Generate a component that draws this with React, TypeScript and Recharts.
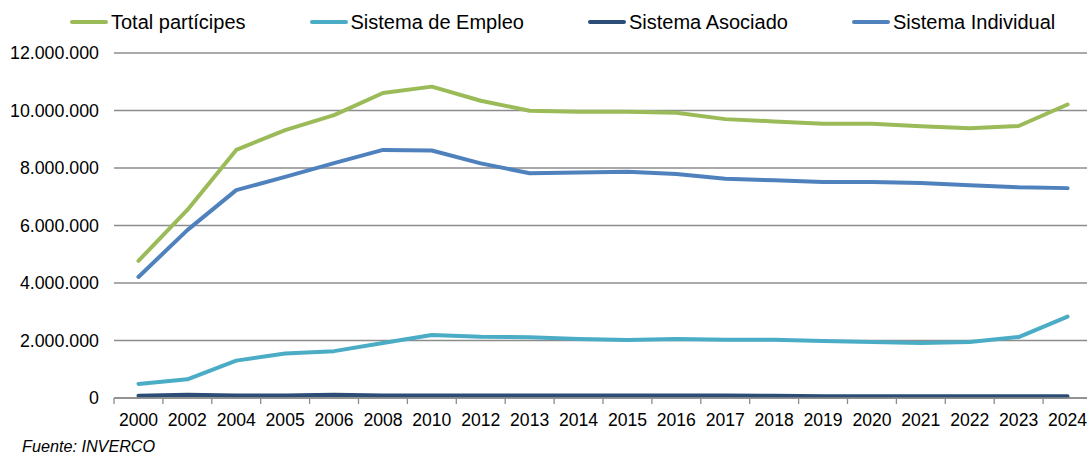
import React from 'react';
import { LineChart, Line, XAxis, YAxis, CartesianGrid, Legend } from 'recharts';

const years = ['2000','2002','2004','2005','2006','2008','2010','2012','2013','2014','2015','2016','2017','2018','2019','2020','2021','2022','2023','2024'];
const totalParticipes = [4770000,6540000,8630000,9320000,9840000,10610000,10830000,10340000,9990000,9960000,9960000,9920000,9700000,9620000,9540000,9540000,9450000,9380000,9460000,10210000];
const sistemaEmpleo = [490000,650000,1300000,1550000,1630000,1910000,2190000,2130000,2110000,2050000,2020000,2050000,2030000,2030000,1980000,1950000,1910000,1950000,2120000,2830000];
const sistemaAsociado = [80000,110000,90000,90000,110000,90000,90000,90000,90000,90000,90000,90000,90000,80000,60000,60000,60000,60000,60000,60000];
const sistemaIndividual = [4210000,5840000,7230000,7690000,8170000,8630000,8610000,8160000,7820000,7840000,7870000,7790000,7630000,7570000,7510000,7510000,7480000,7400000,7330000,7300000];
const yTicks = [0,2000000,4000000,6000000,8000000,10000000,12000000];

const series = [
  { key: 'total', name: 'Total partícipes', color: '#9BBB59', values: totalParticipes },
  { key: 'empleo', name: 'Sistema de Empleo', color: '#4BACC6', values: sistemaEmpleo },
  { key: 'asociado', name: 'Sistema Asociado', color: '#2C4D75', values: sistemaAsociado },
  { key: 'individual', name: 'Sistema Individual', color: '#4F81BD', values: sistemaIndividual },
];

const data = years.map((y, i) => {
  const row: any = { year: y };
  series.forEach(s => { row[s.key] = s.values[i]; });
  return row;
});

const CHART_W = 1095;
const PLOT_LEFT = 114;
const PLOT_RIGHT = 3;
const BAND = (CHART_W - PLOT_LEFT - PLOT_RIGHT) / years.length;
const FONT = '"Liberation Sans", Arial, sans-serif';
const GRID = '#8c8c8c';

const fmt = (n: number) => String(n).replace(/\B(?=(\d{3})+(?!\d))/g, '.');

const XTick = (props: any) => {
  const { x, y, payload } = props;
  const bx = x - BAND / 2;
  return (
    <g>
      <line x1={bx} x2={bx} y1={y} y2={y + 6} stroke={GRID} strokeWidth={1.3} />
      <text x={x} y={y + 27.5} textAnchor="middle" fill="#000" fontSize={17.6} fontFamily={FONT}>{payload.value}</text>
    </g>
  );
};

const LegendContent = () => (
  <div style={{ display: 'flex', alignItems: 'center', paddingLeft: 70, paddingTop: 10, fontFamily: FONT, fontSize: 20, color: '#000', gap: 64 }}>
    {series.map(s => (
      <div key={s.key} style={{ display: 'flex', alignItems: 'center' }}>
        <div style={{ width: 38, height: 4, background: s.color, borderRadius: 2, marginRight: 3 }} />
        <span style={{ lineHeight: '24px' }}>{s.name}</span>
      </div>
    ))}
  </div>
);

export default function App() {
  return (
    <div style={{ position: 'absolute', left: 0, top: 0, width: 1087, height: 454, overflow: 'hidden', background: '#fff' }}>
      <LineChart width={CHART_W} height={454} data={data} margin={{ top: 0, right: PLOT_RIGHT, bottom: 26, left: 0 }}>
        <Legend verticalAlign="top" content={<LegendContent />} wrapperStyle={{ top: 0, left: 0, width: 1087, height: 53 }} />
        <CartesianGrid horizontal vertical={false} stroke={GRID} strokeWidth={1.3} />
        <XAxis dataKey="year" scale="band" height={30} tick={<XTick />} tickLine={false} tickSize={0} tickMargin={0} axisLine={{ stroke: GRID, strokeWidth: 1.3 }} interval={0} />
        <YAxis width={PLOT_LEFT} domain={[0, 12000000]} ticks={yTicks} tickFormatter={fmt} axisLine={false} tickLine={false} tickSize={0} tickMargin={15} tick={{ fill: '#000', fontSize: 17.8, fontFamily: FONT }} />
        {series.map(s => (
          <Line key={s.key} dataKey={s.key} name={s.name} stroke={s.color} strokeWidth={4} dot={false} activeDot={false} isAnimationActive={false} strokeLinejoin="round" strokeLinecap="round" />
        ))}
      </LineChart>
      <div style={{ position: 'absolute', left: 22, top: 437, fontFamily: FONT, fontSize: 16.2, fontStyle: 'italic', color: '#000' }}>Fuente: INVERCO</div>
    </div>
  );
}
